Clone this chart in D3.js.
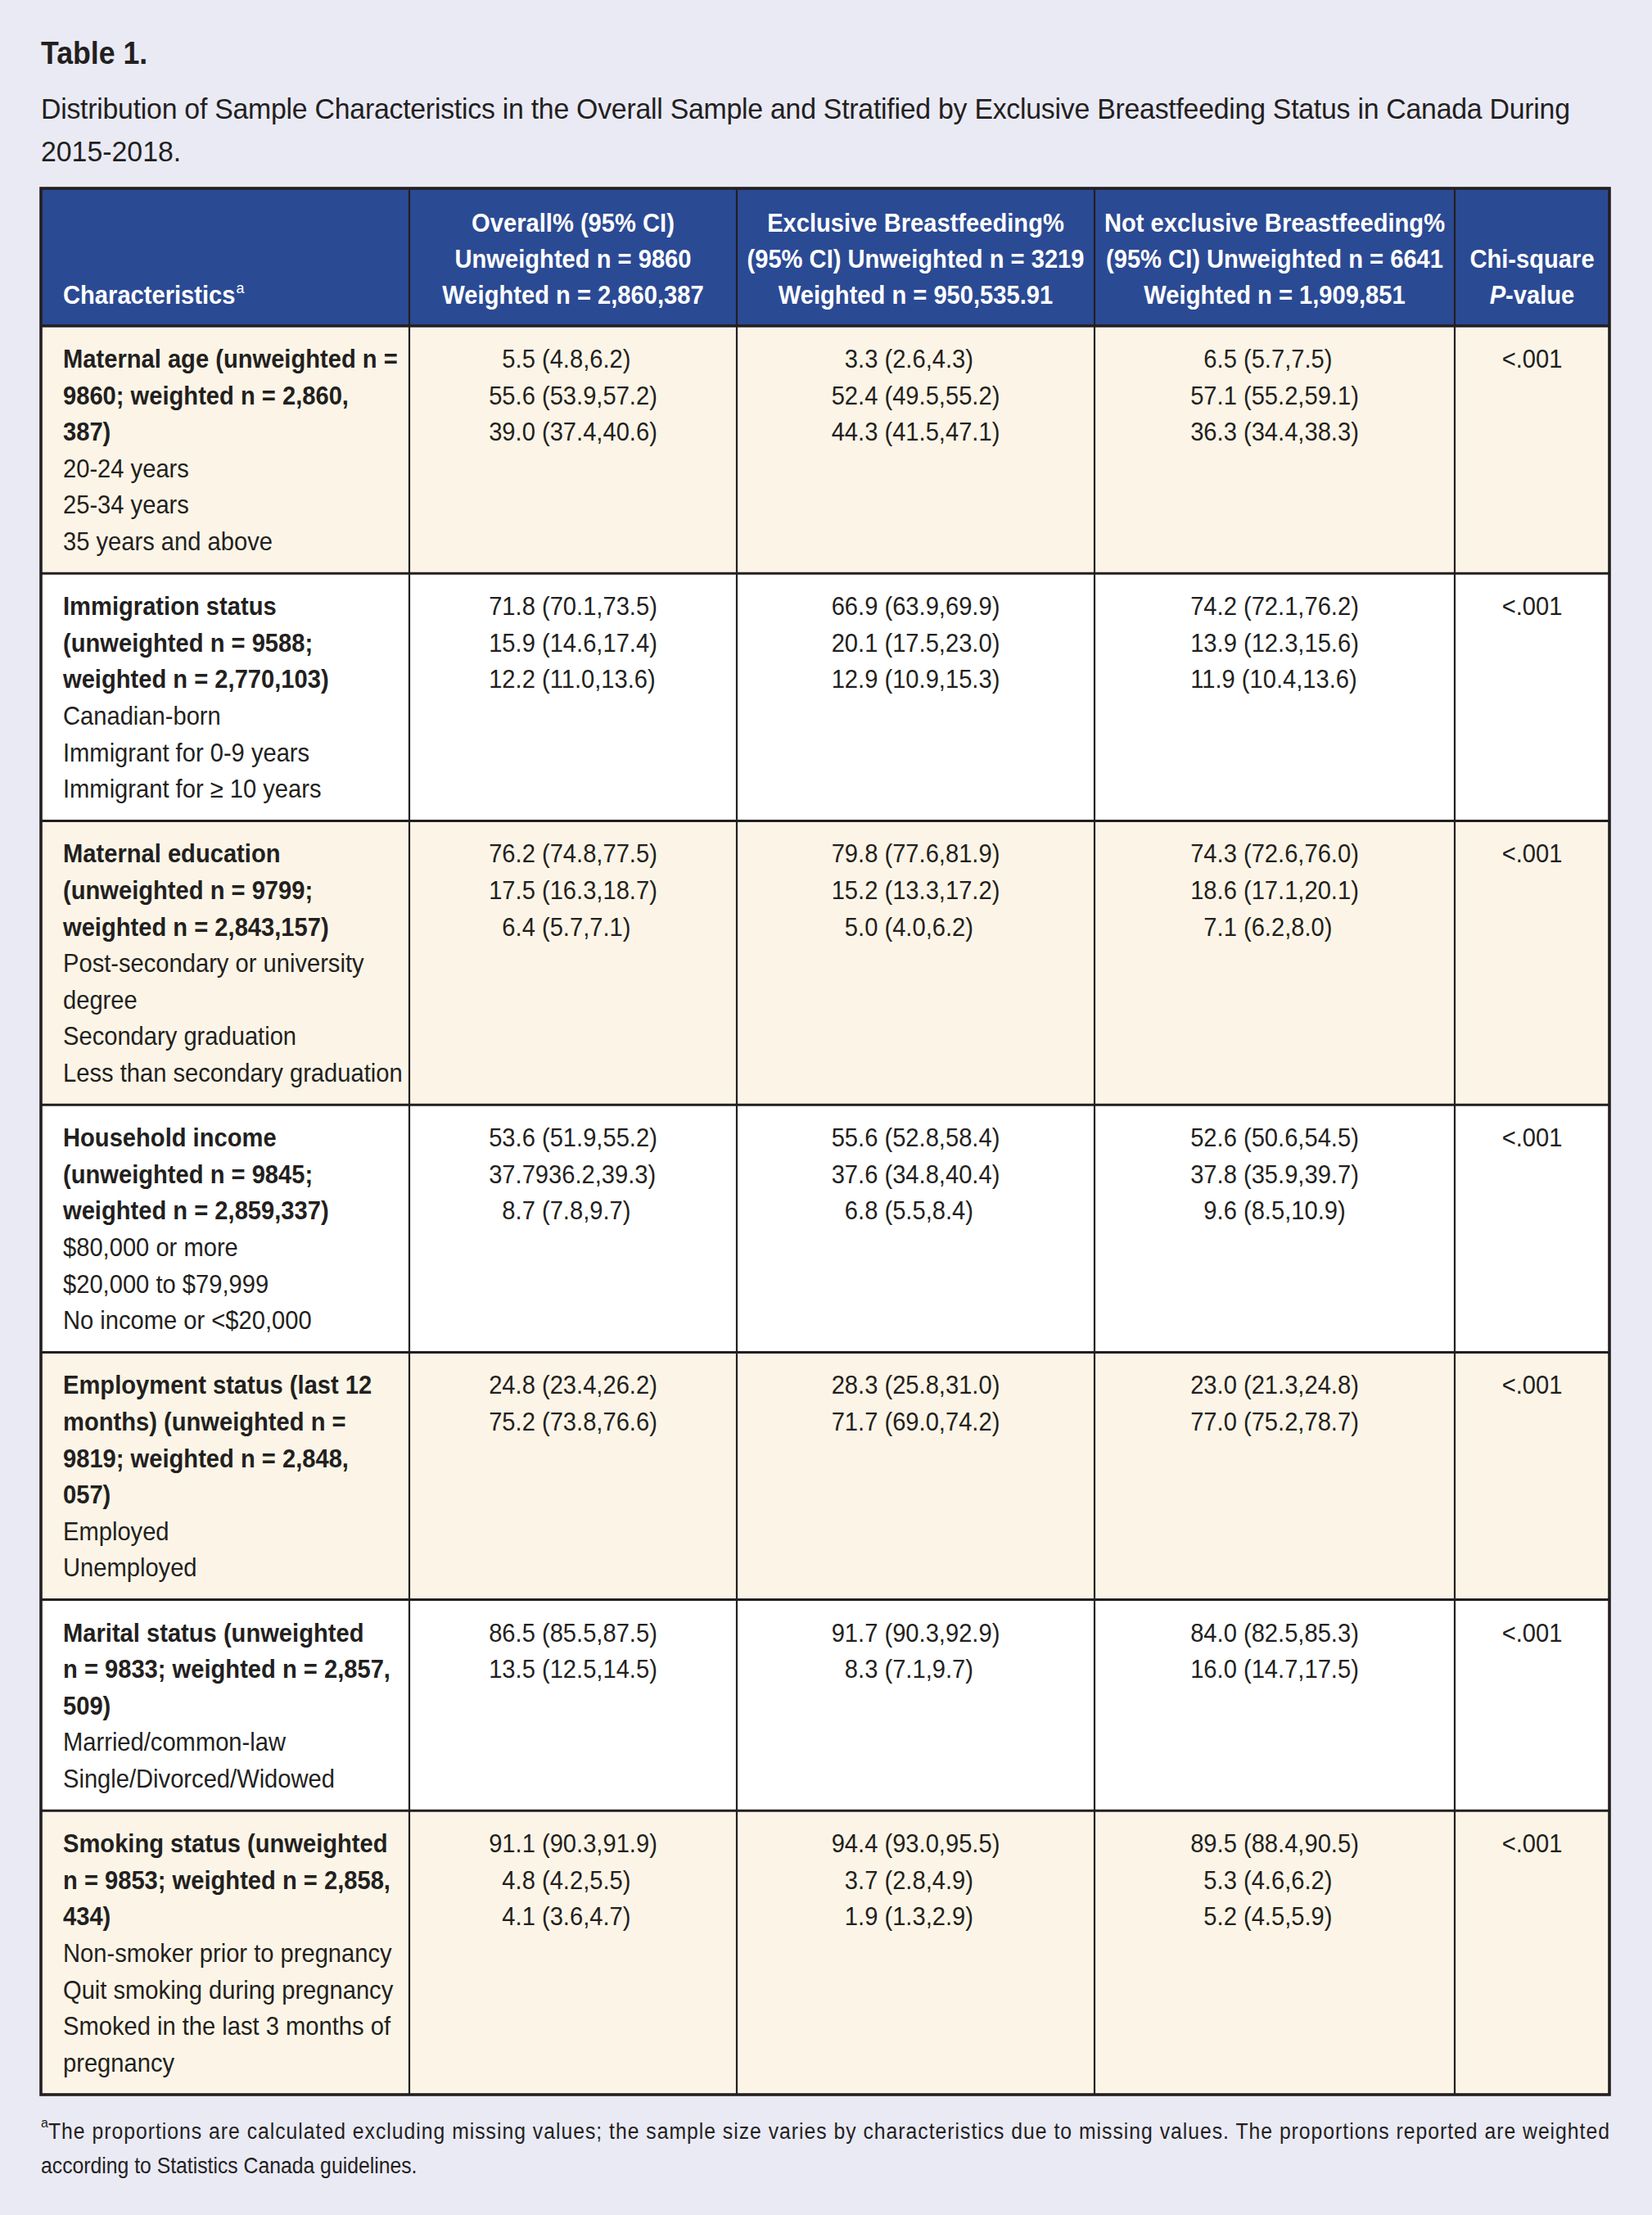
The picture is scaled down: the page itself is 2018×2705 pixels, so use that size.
<!DOCTYPE html>
<html><head><meta charset="utf-8">
<script src="https://cdn.jsdelivr.net/npm/d3@7"></script>
<style>html,body{margin:0;padding:0;background:#EAEAF5;} svg{display:block}</style>
</head><body><svg id="c"></svg>
<script>
// ---------------- DATA ----------------
const titleText = "Table 1.";
const subtitleLines = [
  "Distribution of Sample Characteristics in the Overall Sample and Stratified by Exclusive Breastfeeding Status in Canada During",
  "2015-2018."
];
const headerCharacteristics = "Characteristics";
const headerOverall = ["Overall% (95% CI)", "Unweighted n = 9860", "Weighted n = 2,860,387"];
const headerExclusive = ["Exclusive Breastfeeding%", "(95% CI) Unweighted n = 3219", "Weighted n = 950,535.91"];
const headerNotExclusive = ["Not exclusive Breastfeeding%", "(95% CI) Unweighted n = 6641", "Weighted n = 1,909,851"];
const headerChi = ["Chi-square", "P-value"];

const characteristics = [
  ["Maternal age (unweighted n =", "9860; weighted n = 2,860,", "387)"],
  ["Immigration status", "(unweighted n = 9588;", "weighted n = 2,770,103)"],
  ["Maternal education", "(unweighted n = 9799;", "weighted n = 2,843,157)"],
  ["Household income", "(unweighted n = 9845;", "weighted n = 2,859,337)"],
  ["Employment status (last 12", "months) (unweighted n =", "9819; weighted n = 2,848,", "057)"],
  ["Marital status (unweighted", "n = 9833; weighted n = 2,857,", "509)"],
  ["Smoking status (unweighted", "n = 9853; weighted n = 2,858,", "434)"]
];
const levels = [
  ["20-24 years", "25-34 years", "35 years and above"],
  ["Canadian-born", "Immigrant for 0-9 years", "Immigrant for \u2265 10 years"],
  ["Post-secondary or university|degree", "Secondary graduation", "Less than secondary graduation"],
  ["$80,000 or more", "$20,000 to $79,999", "No income or <$20,000"],
  ["Employed", "Unemployed"],
  ["Married/common-law", "Single/Divorced/Widowed"],
  ["Non-smoker prior to pregnancy", "Quit smoking during pregnancy", "Smoked in the last 3 months of|pregnancy"]
];
const overallValues = [
  ["5.5 (4.8,6.2)", "55.6 (53.9,57.2)", "39.0 (37.4,40.6)"],
  ["71.8 (70.1,73.5)", "15.9 (14.6,17.4)", "12.2 (11.0,13.6)"],
  ["76.2 (74.8,77.5)", "17.5 (16.3,18.7)", "6.4 (5.7,7.1)"],
  ["53.6 (51.9,55.2)", "37.7936.2,39.3)", "8.7 (7.8,9.7)"],
  ["24.8 (23.4,26.2)", "75.2 (73.8,76.6)"],
  ["86.5 (85.5,87.5)", "13.5 (12.5,14.5)"],
  ["91.1 (90.3,91.9)", "4.8 (4.2,5.5)", "4.1 (3.6,4.7)"]
];
const exclusiveValues = [
  ["3.3 (2.6,4.3)", "52.4 (49.5,55.2)", "44.3 (41.5,47.1)"],
  ["66.9 (63.9,69.9)", "20.1 (17.5,23.0)", "12.9 (10.9,15.3)"],
  ["79.8 (77.6,81.9)", "15.2 (13.3,17.2)", "5.0 (4.0,6.2)"],
  ["55.6 (52.8,58.4)", "37.6 (34.8,40.4)", "6.8 (5.5,8.4)"],
  ["28.3 (25.8,31.0)", "71.7 (69.0,74.2)"],
  ["91.7 (90.3,92.9)", "8.3 (7.1,9.7)"],
  ["94.4 (93.0,95.5)", "3.7 (2.8,4.9)", "1.9 (1.3,2.9)"]
];
const notExclusiveValues = [
  ["6.5 (5.7,7.5)", "57.1 (55.2,59.1)", "36.3 (34.4,38.3)"],
  ["74.2 (72.1,76.2)", "13.9 (12.3,15.6)", "11.9 (10.4,13.6)"],
  ["74.3 (72.6,76.0)", "18.6 (17.1,20.1)", "7.1 (6.2,8.0)"],
  ["52.6 (50.6,54.5)", "37.8 (35.9,39.7)", "9.6 (8.5,10.9)"],
  ["23.0 (21.3,24.8)", "77.0 (75.2,78.7)"],
  ["84.0 (82.5,85.3)", "16.0 (14.7,17.5)"],
  ["89.5 (88.4,90.5)", "5.3 (4.6,6.2)", "5.2 (4.5,5.9)"]
];
const pValues = ["<.001", "<.001", "<.001", "<.001", "<.001", "<.001", "<.001"];
const footnoteLines = [
  "The proportions are calculated excluding missing values; the sample size varies by characteristics due to missing values. The proportions reported are weighted",
  "according to Statistics Canada guidelines."
];

// ---------------- LAYOUT / STYLE ----------------
const W = 2018, H = 2705;
const FONT = "'Liberation Sans', Arial, Helvetica, sans-serif";
const SX = 0.94;
const INK = "#231F20";
const BG = "#EAEAF5", BLUE = "#2B4A94", CREAM = "#FCF5E7";
const colWidths = [450, 400, 437, 440, 189];
const tableLeft = 50, tableTop = 230, headerBottom = 398;
const lineH = 44.6, rowPad = 34.6, firstBase = 51, bodySize = 31;

const edges = [tableLeft].concat(Array.from(d3.cumsum(colWidths)).map(v => v + tableLeft));
const tableRight = edges[edges.length - 1];

const svg = d3.select("#c").attr("width", W).attr("height", H)
  .attr("font-family", FONT);
svg.append("rect").attr("width", W).attr("height", H).attr("fill", BG);

function txt(parent, s, x, y, size, opts = {}) {
  const sx = opts.sx || SX;
  const t = parent.append("text")
    .attr("transform", `translate(${x},${y}) scale(${sx},1)`)
    .attr("font-size", size)
    .attr("font-weight", opts.weight || "normal")
    .attr("text-anchor", opts.anchor || "start")
    .attr("fill", opts.fill || INK);
  if (s !== null) t.text(s);
  if (opts.textLength) t.attr("textLength", opts.textLength / sx).attr("lengthAdjust", "spacing");
  return t;
}

// Title & subtitle
txt(svg, titleText, 50, 78, 38, {weight: "bold"});
txt(svg, subtitleLines[0], 50, 145, 36, {textLength: 1918 - 50});
txt(svg, subtitleLines[1], 50, 197, 36);

// Row geometry
const rowLines = characteristics.map((c, i) =>
  c.map(s => ({s, bold: true})).concat(
    levels[i].flatMap(l => l.split("|").map(s => ({s, bold: false})))));
const rowHeights = rowLines.map(r => r.length * lineH + rowPad);
const rowTops = [headerBottom].concat(Array.from(d3.cumsum(rowHeights)).map(v => v + headerBottom));
const tableBottom = rowTops[rowTops.length - 1];

const g = svg.append("g");
g.append("rect").attr("x", tableLeft).attr("y", tableTop)
  .attr("width", tableRight - tableLeft).attr("height", headerBottom - tableTop).attr("fill", BLUE);
g.selectAll("rect.row").data(rowHeights).join("rect").attr("class", "row")
  .attr("x", tableLeft).attr("y", (d, i) => rowTops[i])
  .attr("width", tableRight - tableLeft).attr("height", d => d)
  .attr("fill", (d, i) => i % 2 === 0 ? CREAM : "#FFFFFF");

// Header text
const hb = 371, hl = 44;
const hdr = svg.append("g");
const chT = txt(hdr, headerCharacteristics, edges[0] + 27, hb, bodySize, {weight: "bold", fill: "#fff"});
const chW = chT.node().getComputedTextLength() * SX;
txt(hdr, "a", edges[0] + 27 + chW + 1, hb - 13, 19, {fill: "#fff"});
[headerOverall, headerExclusive, headerNotExclusive, headerChi].forEach((lines, k) => {
  const cx = (edges[k + 1] + edges[k + 2]) / 2;
  lines.forEach((s, j) => {
    const y = hb - (lines.length - 1 - j) * hl;
    if (s === "P-value") {
      const t = txt(hdr, null, cx, y, bodySize, {weight: "bold", anchor: "middle", fill: "#fff"});
      t.append("tspan").attr("font-style", "italic").text("P");
      t.append("tspan").text("-value");
    } else {
      txt(hdr, s, cx, y, bodySize, {weight: "bold", anchor: "middle", fill: "#fff"});
    }
  });
});

// Body text
const body = svg.append("g");
const probe = txt(body, "0", 0, -100, bodySize);
const digitW = probe.node().getComputedTextLength() * SX;
probe.remove();

rowLines.forEach((lines, i) => {
  const top = rowTops[i];
  lines.forEach((ln, j) => {
    txt(body, ln.s, edges[0] + 27, top + firstBase + j * lineH, bodySize, {weight: ln.bold ? "bold" : "normal"});
  });
  [overallValues, exclusiveValues, notExclusiveValues].forEach((col, k) => {
    const vals = col[i];
    const cx = (edges[k + 1] + edges[k + 2]) / 2;
    const items = vals.map((s, j) => {
      const t = txt(body, s, 0, 0, bodySize);
      const w = t.node().getComputedTextLength() * SX;
      const lead = /^\d\./.test(s) ? digitW : 0;
      return {t, w, lead, j};
    });
    const blockW = d3.max(items, d => d.w + d.lead);
    const x0 = cx - blockW / 2;
    items.forEach(d => d.t.attr("transform",
      `translate(${x0 + d.lead},${top + firstBase + d.j * lineH}) scale(${SX},1)`));
  });
  txt(body, pValues[i], (edges[4] + edges[5]) / 2, top + firstBase, bodySize, {anchor: "middle"});
});

// Grid lines
const grid = svg.append("g").attr("stroke", INK);
grid.selectAll("line.v").data(edges.slice(1, -1)).join("line").attr("class", "v")
  .attr("x1", d => d).attr("x2", d => d).attr("y1", tableTop).attr("y2", tableBottom)
  .attr("stroke-width", 2.2);
grid.selectAll("line.h").data(rowTops.slice(0, -1)).join("line").attr("class", "h")
  .attr("x1", tableLeft).attr("x2", tableRight).attr("y1", d => d).attr("y2", d => d)
  .attr("stroke-width", (d, i) => i === 0 ? 3.6 : 3);
grid.append("rect").attr("x", tableLeft).attr("y", tableTop)
  .attr("width", tableRight - tableLeft).attr("height", tableBottom - tableTop)
  .attr("fill", "none").attr("stroke-width", 3.6);

// Footnote
const fb = tableBottom + 54;
txt(svg, "a", 50, fb - 14, 17);
txt(svg, footnoteLines[0], 59, fb, 27.5, {textLength: tableRight - 59, sx: 0.9});
txt(svg, footnoteLines[1], 50, fb + 42, 27.5, {sx: 0.9});
</script>
</body></html>
